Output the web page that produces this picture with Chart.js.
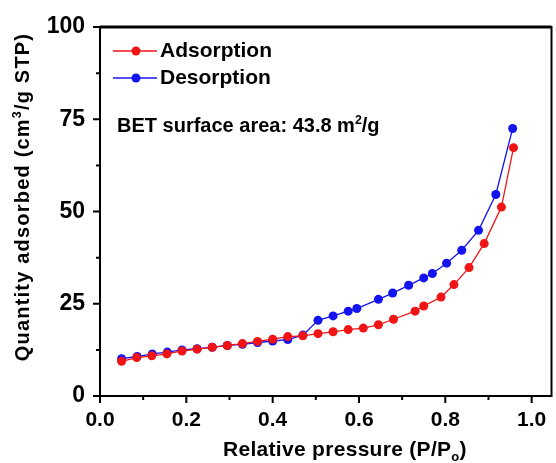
<!DOCTYPE html>
<html>
<head>
  <meta charset="UTF-8">
  <title>BET isotherm</title>
  <script src="https://cdn.jsdelivr.net/npm/chart.js"></script>
  <style>
    body { margin: 0; background: #fff; }
    canvas { display: block; }
  </style>
</head>
<body>
  <canvas id="bet" width="556" height="463"></canvas>
  <script>
    // values
    const adsP = [0.05, 0.085, 0.12, 0.155, 0.19, 0.225, 0.26, 0.295, 0.33, 0.365, 0.40, 0.435, 0.47, 0.505, 0.54, 0.575, 0.61, 0.645, 0.68, 0.73, 0.75, 0.79, 0.82, 0.855, 0.89, 0.93, 0.958];
    const adsQ = [9.4, 10.4, 10.9, 11.4, 12.2, 12.7, 13.2, 13.7, 14.2, 14.8, 15.4, 16.1, 16.3, 16.9, 17.4, 18.0, 18.4, 19.3, 20.8, 23.0, 24.4, 26.8, 30.2, 34.8, 41.3, 51.2, 67.3];
    const desP = [0.05, 0.086, 0.121, 0.156, 0.19, 0.225, 0.26, 0.295, 0.33, 0.365, 0.40, 0.435, 0.47, 0.505, 0.54, 0.575, 0.595, 0.645, 0.678, 0.715, 0.75, 0.77, 0.803, 0.838, 0.877, 0.917, 0.956];
    const desQ = [10.1, 10.7, 11.4, 11.9, 12.5, 12.8, 13.2, 13.7, 14.0, 14.5, 14.9, 15.3, 16.5, 20.5, 21.7, 23.0, 23.7, 26.2, 27.9, 30.0, 32.0, 33.2, 36.0, 39.5, 44.9, 54.6, 72.5];
    const xTicks = [0, 0.2, 0.4, 0.6, 0.8, 1.0];
    const yTicks = [0, 25, 50, 75, 100];

    const FONT = '"Liberation Sans", Arial, sans-serif';
    const RED = '#f01414';
    const BLUE = '#1414f0';

    function pts(xs, ys) {
      return xs.map((x, i) => ({ x: x, y: ys[i] }));
    }

    // draws text with a super/subscript piece in the middle
    function drawRich(ctx, parts, x, y, size) {
      let cx = x;
      parts.forEach(p => {
        const s = p.sub || p.sup ? size * 0.62 : size;
        ctx.font = 'bold ' + s + 'px ' + FONT;
        const dy = p.sup ? -size * 0.38 : (p.sub ? size * 0.25 : 0);
        ctx.fillText(p.t, cx, y + dy);
        cx += ctx.measureText(p.t).width;
      });
      return cx - x;
    }
    function richWidth(ctx, parts, size) {
      let w = 0;
      parts.forEach(p => {
        const s = p.sub || p.sup ? size * 0.62 : size;
        ctx.font = 'bold ' + s + 'px ' + FONT;
        w += ctx.measureText(p.t).width;
      });
      return w;
    }

    const decor = {
      id: 'decor',
      afterDraw(chart) {
        const ctx = chart.ctx;
        const a = chart.chartArea;
        const xs = chart.scales.x, ys = chart.scales.y;
        ctx.save();
        ctx.strokeStyle = '#000';
        ctx.fillStyle = '#000';
        ctx.lineWidth = 2;
        ctx.strokeRect(a.left, a.top, a.right - a.left, a.bottom - a.top);
        ctx.lineWidth = 3;
        ctx.beginPath();
        ctx.moveTo(a.left, a.top); ctx.lineTo(a.right, a.top);
        ctx.stroke();

        // tick marks, outward
        ctx.lineWidth = 2;
        ctx.beginPath();
        for (let i = 0; i <= 10; i++) {
          const px = xs.getPixelForValue(i / 10);
          ctx.moveTo(px, a.bottom);
          ctx.lineTo(px, a.bottom + (i % 2 === 0 ? 7 : 4));
        }
        for (let i = 0; i <= 8; i++) {
          const py = ys.getPixelForValue(i * 12.5);
          ctx.moveTo(a.left, py);
          ctx.lineTo(a.left - (i % 2 === 0 ? 7 : 4), py);
        }
        ctx.stroke();

        // legend
        const sets = chart.data.datasets;
        const rows = [51, 78];
        sets.forEach((ds, i) => {
          const y = rows[i];
          ctx.strokeStyle = ds.borderColor;
          ctx.lineWidth = 1.5;
          ctx.beginPath();
          ctx.moveTo(113, y); ctx.lineTo(157, y);
          ctx.stroke();
          ctx.fillStyle = ds.backgroundColor;
          ctx.beginPath();
          ctx.arc(136, y, 4.5, 0, Math.PI * 2);
          ctx.fill();
          ctx.fillStyle = '#000';
          ctx.font = 'bold 21px ' + FONT;
          ctx.textBaseline = 'alphabetic';
          ctx.textAlign = 'left';
          ctx.fillText(ds.label, 160, y + 6);
        });

        // annotation
        ctx.textAlign = 'left';
        ctx.textBaseline = 'alphabetic';
        drawRich(ctx, [{ t: 'BET surface area: 43.8 m' }, { t: '2', sup: true }, { t: '/g' }], 117, 132, 20);

        // x title
        const xt = [{ t: 'Relative pressure (P/P' }, { t: 'o', sub: true }, { t: ')' }];
        ctx.letterSpacing = '0.3px';
        drawRich(ctx, xt, 223, 456, 21);

        // y title
        const yt = [{ t: 'Quantity adsorbed (cm' }, { t: '3', sup: true }, { t: '/g STP)' }];
        ctx.translate(29, 197);
        ctx.rotate(-Math.PI / 2);
        ctx.letterSpacing = '1.2px';
        const yw = richWidth(ctx, yt, 20);
        drawRich(ctx, yt, -yw / 2, 0, 20);
        ctx.restore();
      }
    };

    new Chart(document.getElementById('bet'), {
      type: 'scatter',
      data: {
        datasets: [
          {
            label: 'Adsorption',
            data: pts(adsP, adsQ),
            showLine: true,
            borderColor: RED,
            backgroundColor: RED,
            borderWidth: 1.3,
            pointRadius: 4.5,
            pointBorderWidth: 0
          },
          {
            label: 'Desorption',
            data: pts(desP, desQ),
            showLine: true,
            borderColor: BLUE,
            backgroundColor: BLUE,
            borderWidth: 1.3,
            pointRadius: 4.5,
            pointBorderWidth: 0
          }
        ]
      },
      options: {
        responsive: false,
        animation: false,
        layout: { padding: { left: 0, top: 27, right: 1, bottom: 0 } },
        plugins: {
          legend: { display: false },
          tooltip: { enabled: false }
        },
        scales: {
          x: {
            type: 'linear',
            min: 0,
            max: 1.046,
            grid: { display: false, drawTicks: false },
            border: { display: false },
            afterBuildTicks: s => { s.ticks = xTicks.map(v => ({ value: v })); },
            afterFit: s => { s.height = 67; s.paddingLeft = 0; s.paddingRight = 0; },
            ticks: {
              autoSkip: false,
              maxRotation: 0,
              padding: 12,
              color: '#000',
              font: { family: FONT, size: 21, weight: 'bold' },
              callback: v => Number(v).toFixed(1)
            }
          },
          y: {
            min: 0,
            max: 100,
            grid: { display: false, drawTicks: false },
            border: { display: false },
            afterBuildTicks: s => { s.ticks = yTicks.map(v => ({ value: v })); },
            afterFit: s => { s.width = 100; s.paddingTop = 0; s.paddingBottom = 0; },
            ticks: {
              autoSkip: false,
              padding: 15,
              color: '#000',
              font: { family: FONT, size: 23, weight: 'bold' }
            }
          }
        }
      },
      plugins: [decor]
    });
  </script>
</body>
</html>
